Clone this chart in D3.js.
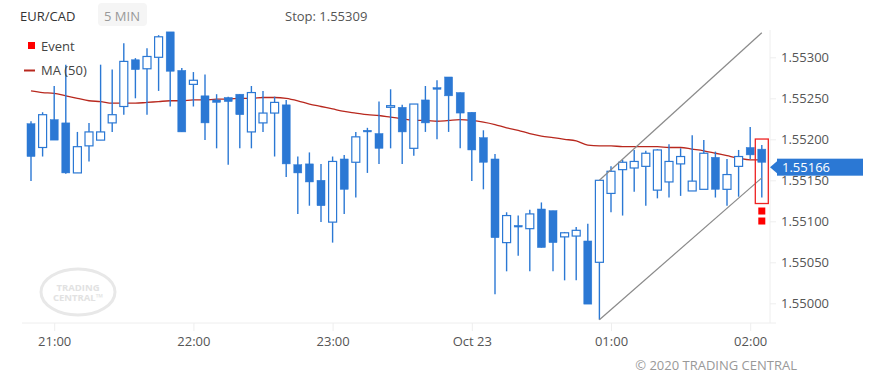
<!DOCTYPE html>
<html><head><meta charset="utf-8">
<script src="https://cdn.jsdelivr.net/npm/d3@7"></script>
<style>body{margin:0;background:#fff}svg{display:block;font-family:"Open Sans",sans-serif}</style>
</head><body><svg id="c" width="876" height="384"></svg>
<script>
const times = ["20:50","20:55","21:00","21:05","21:10","21:15","21:20","21:25","21:30","21:35","21:40","21:45","21:50","21:55","22:00","22:05","22:10","22:15","22:20","22:25","22:30","22:35","22:40","22:45","22:50","22:55","23:00","23:05","23:10","23:15","23:20","23:25","23:30","23:35","23:40","23:45","23:50","23:55","00:00","00:05","00:10","00:15","00:20","00:25","00:30","00:35","00:40","00:45","00:50","00:55","01:00","01:05","01:10","01:15","01:20","01:25","01:30","01:35","01:40","01:45","01:50","01:55","02:00","02:05"];
const open  = [1.55219,1.55190,1.55224,1.55220,1.55159,1.55192,1.55199,1.55220,1.55240,1.55297,1.55286,1.55300,1.55331,1.55284,1.55267,1.55253,1.55248,1.55251,1.55255,1.55209,1.55220,1.55232,1.55242,1.55169,1.55170,1.55150,1.55099,1.55176,1.55172,1.55211,1.55207,1.55239,1.55239,1.55189,1.55248,1.55263,1.55276,1.55257,1.55233,1.55202,1.55176,1.55074,1.55095,1.55091,1.55115,1.55113,1.55081,1.55082,1.55076,1.55050,1.55134,1.55163,1.55165,1.55167,1.55138,1.55148,1.55170,1.55137,1.55139,1.55178,1.55139,1.55167,1.55190,1.55188];
const high  = [1.55222,1.55233,1.55265,1.55291,1.55209,1.55220,1.55291,1.55285,1.55317,1.55299,1.55311,1.55327,1.55331,1.55287,1.55282,1.55279,1.55255,1.55252,1.55255,1.55265,1.55259,1.55252,1.55248,1.55179,1.55184,1.55170,1.55179,1.55181,1.55209,1.55214,1.55246,1.55261,1.55242,1.55243,1.55265,1.55272,1.55276,1.55257,1.55233,1.55211,1.55182,1.55111,1.55107,1.55114,1.55123,1.55113,1.55087,1.55093,1.55097,1.55150,1.55167,1.55175,1.55187,1.55186,1.55188,1.55194,1.55189,1.55205,1.55199,1.55185,1.55176,1.55187,1.55215,1.55193];
const low   = [1.55149,1.55179,1.55199,1.55158,1.55159,1.55173,1.55199,1.55209,1.55230,1.55250,1.55230,1.55259,1.55240,1.55209,1.55240,1.55199,1.55189,1.55169,1.55189,1.55189,1.55209,1.55179,1.55154,1.55109,1.55119,1.55099,1.55074,1.55109,1.55129,1.55159,1.55170,1.55189,1.55170,1.55180,1.55209,1.55200,1.55209,1.55189,1.55149,1.55139,1.55011,1.55039,1.55058,1.55039,1.55068,1.55039,1.55028,1.55028,1.54999,1.54980,1.55111,1.55107,1.55136,1.55119,1.55128,1.55129,1.55131,1.55137,1.55139,1.55129,1.55119,1.55130,1.55176,1.55129];
const close = [1.55179,1.55230,1.55199,1.55159,1.55191,1.55209,1.55209,1.55230,1.55295,1.55285,1.55301,1.55325,1.55283,1.55209,1.55272,1.55220,1.55245,1.55246,1.55230,1.55257,1.55232,1.55245,1.55170,1.55159,1.55148,1.55119,1.55173,1.55139,1.55203,1.55209,1.55189,1.55241,1.55209,1.55243,1.55220,1.55261,1.55253,1.55232,1.55187,1.55172,1.55080,1.55107,1.55093,1.55109,1.55068,1.55074,1.55086,1.55089,1.54999,1.55150,1.55161,1.55172,1.55173,1.55183,1.55187,1.55173,1.55179,1.55149,1.55183,1.55139,1.55157,1.55179,1.55181,1.55172];
const ma50  = [1.55259,1.55257,1.55256,1.55253,1.55250,1.55247,1.55246,1.55244,1.55244,1.55244,1.55245,1.55246,1.55247,1.55247,1.55248,1.55248,1.55249,1.55249,1.55250,1.55250,1.55251,1.55251,1.55250,1.55247,1.55243,1.55240,1.55237,1.55234,1.55232,1.55230,1.55229,1.55227,1.55225,1.55223,1.55223,1.55222,1.55223,1.55224,1.55223,1.55221,1.55218,1.55214,1.55211,1.55207,1.55204,1.55202,1.55200,1.55198,1.55193,1.55192,1.55192,1.55191,1.55191,1.55191,1.55191,1.55190,1.55190,1.55188,1.55186,1.55183,1.55180,1.55177,1.55175,1.55175];
const channelLower = [["00:55",1.54980],["02:05",1.55153]];
const channelUpper = [["00:55",1.55150],["02:05",1.55330]];
const yTicks = [1.55000,1.55050,1.55100,1.55150,1.55200,1.55250,1.55300];
const xTicks = ["21:00","22:00","23:00","00:00","01:00","02:00"];
const lastPrice = 1.55166;
const stopPrice = 1.55309;
const eventIndex = 63;
const eventMarkers = 2;

const toDate = s => { const [h,m]=s.split(":").map(Number); return new Date(Date.UTC(2020, 9, h>=12?22:23, h, m)); };
const data = times.map((t,i)=>({t:toDate(t),o:open[i],h:high[i],l:low[i],c:close[i],ma:ma50[i]}));

const svg = d3.select("#c");
const x = d3.scaleUtc().domain([toDate("20:50"), toDate("02:05")]).range([31, 761.8]);
const y = d3.scaleLinear().domain([1.55, 1.553]).range([303.3, 57.3]);
const blue = "#2b78d4";

// header
svg.append("text").attr("x",20).attr("y",21).attr("font-size",13).attr("fill","#333").text("EUR/CAD");
svg.append("rect").attr("x",98).attr("y",3).attr("width",49).attr("height",23).attr("rx",4).attr("fill","#f5f5f5");
svg.append("text").attr("x",104).attr("y",21).attr("font-size",13).attr("fill","#999").text("5 MIN");
svg.append("text").attr("x",285).attr("y",21).attr("font-size",13).attr("fill","#555").text("Stop: " + stopPrice.toFixed(5));

// watermark
const wm = svg.append("g").attr("opacity",1);
wm.append("ellipse").attr("cx",78).attr("cy",292).attr("rx",37).attr("ry",23).attr("fill","none").attr("stroke","#e8e8e8").attr("stroke-width",3);
wm.append("text").attr("x",78).attr("y",291).attr("text-anchor","middle").attr("font-size",9.5).attr("font-weight",700).attr("fill","#e2e2e2").text("TRADING");
wm.append("text").attr("x",78).attr("y",301).attr("text-anchor","middle").attr("font-size",9.5).attr("font-weight",700).attr("fill","#e2e2e2").text("CENTRAL™");

// axes
const yAxis = d3.axisRight(y).tickValues(yTicks).tickFormat(d3.format(".5f")).tickSize(6).tickPadding(5);
const gy = svg.append("g").attr("transform","translate(770,0)").call(yAxis);
gy.select(".domain").attr("d","M0,30V323").attr("stroke","#eee");
gy.selectAll(".tick line").attr("stroke","#eee");
gy.selectAll(".tick text").attr("font-size",13).attr("fill","#555").attr("font-family","Open Sans");

const xAxis = d3.axisBottom(x).tickValues(xTicks.map(toDate)).tickSize(8).tickPadding(6)
  .tickFormat(d => d.getUTCHours()===0 ? d3.utcFormat("%b %d")(d) : d3.utcFormat("%H:%M")(d));
const gx = svg.append("g").attr("transform","translate(0,323)").call(xAxis);
gx.select(".domain").attr("d","M22,0H776").attr("stroke","#eee");
gx.selectAll(".tick line").attr("stroke","#eee");
gx.selectAll(".tick text").attr("font-size",13).attr("fill","#555").attr("font-family","Open Sans");

// MA
svg.append("path").datum(data).attr("fill","none").attr("stroke","#b8281e").attr("stroke-width",1.3)
  .attr("d", d3.line().x(d=>x(d.t)).y(d=>y(d.ma)).curve(d3.curveMonotoneX));

// candles
const bw = 8;
const cg = svg.append("g");
cg.selectAll("line.w").data(data).join("line").attr("class","w")
  .attr("x1",d=>x(d.t)).attr("x2",d=>x(d.t)).attr("y1",d=>y(d.h)).attr("y2",d=>y(d.l))
  .attr("stroke",blue).attr("stroke-width",1.4);
cg.selectAll("rect.b").data(data).join("rect").attr("class","b")
  .attr("x",d=>x(d.t)-bw/2).attr("width",bw)
  .attr("y",d=>y(Math.max(d.o,d.c))).attr("height",d=>Math.max(1.5,Math.abs(y(d.o)-y(d.c))))
  .attr("fill",d=>d.c<d.o?blue:"#fff").attr("stroke",blue).attr("stroke-width",d=>d.c<d.o?0.5:1.2);

// channel
[channelLower, channelUpper].forEach(ch => {
  svg.append("line").attr("x1",x(toDate(ch[0][0]))).attr("y1",y(ch[0][1]))
    .attr("x2",x(toDate(ch[1][0]))).attr("y2",y(ch[1][1]))
    .attr("stroke","#8a8a8a").attr("stroke-width",1.2);
});

// event
const ev = data[eventIndex];
svg.append("rect").attr("x",x(ev.t)-6.5).attr("width",13)
  .attr("y",y(ev.h)-6).attr("height",y(ev.l)-y(ev.h)+12)
  .attr("fill","none").attr("stroke","#ee2222").attr("stroke-width",1.3);
d3.range(eventMarkers).forEach(k=>{
  svg.append("rect").attr("x",x(ev.t)-3.5).attr("y",y(ev.l)+10+k*10).attr("width",7).attr("height",7).attr("fill","#f00");
});

// last price label
const ly = y(lastPrice);
svg.append("path").attr("d",`M770,${ly}L777,${ly-6}L777,${ly+6}Z`).attr("fill",blue);
svg.append("rect").attr("x",777).attr("y",ly-8.5).attr("width",86).attr("height",17).attr("fill",blue);
svg.append("text").attr("x",782).attr("y",ly+4.5).attr("font-size",13).attr("fill","#fff").text(lastPrice.toFixed(5));

// legend
svg.append("rect").attr("x",28).attr("y",42).attr("width",7).attr("height",7).attr("fill","#f00");
svg.append("text").attr("x",41).attr("y",51).attr("font-size",13).attr("fill","#444").text("Event");
svg.append("line").attr("x1",24).attr("x2",35).attr("y1",70.5).attr("y2",70.5).attr("stroke","#b8281e").attr("stroke-width",2);
svg.append("text").attr("x",41).attr("y",75).attr("font-size",13).attr("fill","#444").text("MA (50)");

// copyright
svg.append("text").attr("x",797).attr("y",370).attr("text-anchor","end").attr("font-size",13).attr("fill","#999").text("© 2020 TRADING CENTRAL");
</script></body></html>
